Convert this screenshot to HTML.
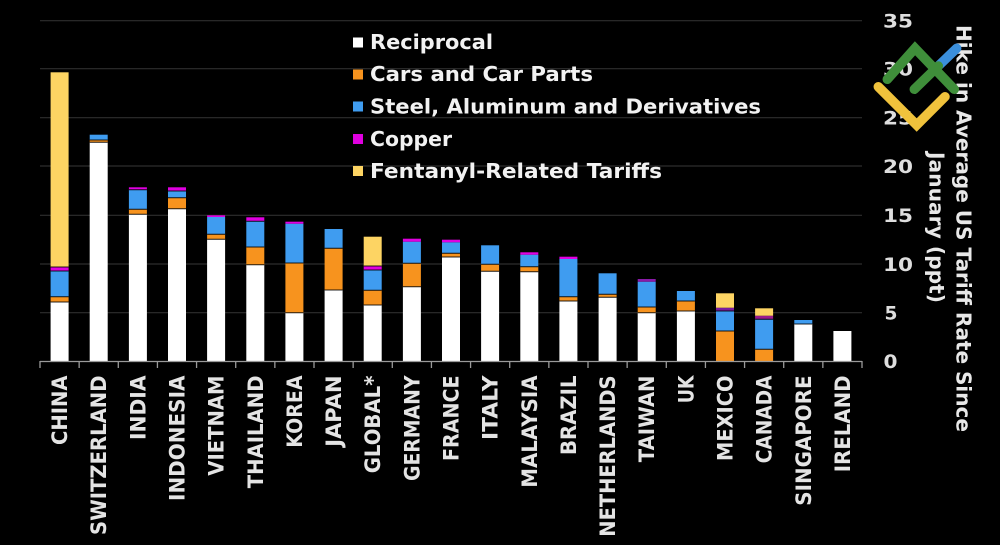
<!DOCTYPE html>
<html><head><meta charset="utf-8"><style>
html,body{margin:0;padding:0;background:#000;}
svg{display:block;}
text{font-family:"DejaVu Sans","Liberation Sans",sans-serif;font-weight:bold;}
.lab{font-family:"DejaVu Sans Mono","Liberation Mono",monospace;font-size:21px;fill:#e4e4e4;}
.leg{font-size:20px;fill:#f2f2f2;}
.ax{font-size:19px;fill:#dedede;}
.tt{font-size:20px;fill:#e8e8e8;}
</style></head><body>
<svg width="1000" height="545" viewBox="0 0 1000 545" xmlns="http://www.w3.org/2000/svg">
<rect width="1000" height="545" fill="#000"/>
<!-- gridlines -->
<g stroke="#2e2e2e" stroke-width="1.2">
<line x1="40" y1="20.7" x2="862" y2="20.7"/>
<line x1="40" y1="68.7" x2="862" y2="68.7"/>
<line x1="40" y1="117.7" x2="862" y2="117.7"/>
<line x1="40" y1="166" x2="862" y2="166"/>
<line x1="40" y1="215.3" x2="862" y2="215.3"/>
<line x1="40" y1="264" x2="862" y2="264"/>
<line x1="40" y1="312.7" x2="862" y2="312.7"/>
</g>
<!-- bars -->
<g>
<!-- CHINA -->
<rect x="50.6" y="302" width="18" height="59" fill="#fff"/>
<rect x="50.6" y="296.7" width="18" height="5.3" fill="#f7931e"/>
<rect x="50.6" y="271" width="18" height="25.7" fill="#3f9cf0"/>
<rect x="50.6" y="267" width="18" height="4" fill="#e000e0"/>
<rect x="50.6" y="72.3" width="18" height="194.7" fill="#fdd463"/>
<!-- SWITZERLAND -->
<rect x="89.7" y="142.3" width="18" height="218.7" fill="#fff"/>
<rect x="89.7" y="140" width="18" height="2.3" fill="#f7931e"/>
<rect x="89.7" y="134.7" width="18" height="5.3" fill="#3f9cf0"/>
<!-- INDIA -->
<rect x="128.9" y="214.3" width="18" height="146.7" fill="#fff"/>
<rect x="128.9" y="209.3" width="18" height="5" fill="#f7931e"/>
<rect x="128.9" y="189.7" width="18" height="19.6" fill="#3f9cf0"/>
<rect x="128.9" y="187.3" width="18" height="2.4" fill="#e000e0"/>
<!-- INDONESIA -->
<rect x="168" y="208.7" width="18" height="152.3" fill="#fff"/>
<rect x="168" y="197.7" width="18" height="11" fill="#f7931e"/>
<rect x="168" y="191" width="18" height="6.7" fill="#3f9cf0"/>
<rect x="168" y="187.3" width="18" height="3.7" fill="#e000e0"/>
<!-- VIETNAM -->
<rect x="207.1" y="239.3" width="18" height="121.7" fill="#fff"/>
<rect x="207.1" y="234.3" width="18" height="5" fill="#f7931e"/>
<rect x="207.1" y="217" width="18" height="17.3" fill="#3f9cf0"/>
<rect x="207.1" y="215.3" width="18" height="1.7" fill="#e000e0"/>
<!-- THAILAND -->
<rect x="246.3" y="264.7" width="18" height="96.3" fill="#fff"/>
<rect x="246.3" y="247" width="18" height="17.7" fill="#f7931e"/>
<rect x="246.3" y="221.3" width="18" height="25.7" fill="#3f9cf0"/>
<rect x="246.3" y="217.3" width="18" height="4" fill="#e000e0"/>
<!-- KOREA -->
<rect x="285.4" y="312.7" width="18" height="48.3" fill="#fff"/>
<rect x="285.4" y="263" width="18" height="49.7" fill="#f7931e"/>
<rect x="285.4" y="223.7" width="18" height="39.3" fill="#3f9cf0"/>
<rect x="285.4" y="221.7" width="18" height="2" fill="#e000e0"/>
<!-- JAPAN -->
<rect x="324.6" y="290" width="18" height="71" fill="#fff"/>
<rect x="324.6" y="248.3" width="18" height="41.7" fill="#f7931e"/>
<rect x="324.6" y="229" width="18" height="19.3" fill="#3f9cf0"/>
<!-- GLOBAL -->
<rect x="363.7" y="305" width="18" height="56" fill="#fff"/>
<rect x="363.7" y="290.3" width="18" height="14.7" fill="#f7931e"/>
<rect x="363.7" y="270" width="18" height="20.3" fill="#3f9cf0"/>
<rect x="363.7" y="266" width="18" height="4" fill="#e000e0"/>
<rect x="363.7" y="236.7" width="18" height="29.3" fill="#fdd463"/>
<!-- GERMANY -->
<rect x="402.9" y="286.7" width="18" height="74.3" fill="#fff"/>
<rect x="402.9" y="263.3" width="18" height="23.4" fill="#f7931e"/>
<rect x="402.9" y="241.7" width="18" height="21.6" fill="#3f9cf0"/>
<rect x="402.9" y="238.7" width="18" height="3" fill="#e000e0"/>
<!-- FRANCE -->
<rect x="442" y="257" width="18" height="104" fill="#fff"/>
<rect x="442" y="253.3" width="18" height="3.7" fill="#f7931e"/>
<rect x="442" y="242.3" width="18" height="11" fill="#3f9cf0"/>
<rect x="442" y="239.7" width="18" height="2.6" fill="#e000e0"/>
<!-- ITALY -->
<rect x="481.1" y="271.3" width="18" height="89.7" fill="#fff"/>
<rect x="481.1" y="264.3" width="18" height="7" fill="#f7931e"/>
<rect x="481.1" y="245.3" width="18" height="19" fill="#3f9cf0"/>
<!-- MALAYSIA -->
<rect x="520.3" y="271.7" width="18" height="89.3" fill="#fff"/>
<rect x="520.3" y="266.7" width="18" height="5" fill="#f7931e"/>
<rect x="520.3" y="254.7" width="18" height="12" fill="#3f9cf0"/>
<rect x="520.3" y="252.3" width="18" height="2.4" fill="#e000e0"/>
<!-- BRAZIL -->
<rect x="559.4" y="301" width="18" height="60" fill="#fff"/>
<rect x="559.4" y="296.7" width="18" height="4.3" fill="#f7931e"/>
<rect x="559.4" y="259" width="18" height="37.7" fill="#3f9cf0"/>
<rect x="559.4" y="256.7" width="18" height="2.3" fill="#e000e0"/>
<!-- NETHERLANDS -->
<rect x="598.6" y="297.3" width="18" height="63.7" fill="#fff"/>
<rect x="598.6" y="294.3" width="18" height="3" fill="#f7931e"/>
<rect x="598.6" y="273.3" width="18" height="21" fill="#3f9cf0"/>
<!-- TAIWAN -->
<rect x="637.7" y="312.7" width="18" height="48.3" fill="#fff"/>
<rect x="637.7" y="307" width="18" height="5.7" fill="#f7931e"/>
<rect x="637.7" y="281.7" width="18" height="25.3" fill="#3f9cf0"/>
<rect x="637.7" y="279" width="18" height="2.7" fill="#8a1aa8"/>
<!-- UK -->
<rect x="676.9" y="311" width="18" height="50" fill="#fff"/>
<rect x="676.9" y="301" width="18" height="10" fill="#f7931e"/>
<rect x="676.9" y="291" width="18" height="10" fill="#3f9cf0"/>
<!-- MEXICO -->
<rect x="716" y="331" width="18" height="30" fill="#f7931e"/>
<rect x="716" y="311" width="18" height="20" fill="#3f9cf0"/>
<rect x="716" y="307.7" width="18" height="3.3" fill="#7a1a9e"/>
<rect x="716" y="293.3" width="18" height="14.4" fill="#fdd463"/>
<!-- CANADA -->
<rect x="755.1" y="349.3" width="18" height="11.7" fill="#f7931e"/>
<rect x="755.1" y="319.3" width="18" height="30" fill="#3f9cf0"/>
<rect x="755.1" y="315.7" width="18" height="3.6" fill="#9a1a8e"/>
<rect x="755.1" y="308.3" width="18" height="7.4" fill="#fdd463"/>
<!-- SINGAPORE -->
<rect x="794.3" y="324" width="18" height="37" fill="#fff"/>
<rect x="794.3" y="320" width="18" height="4" fill="#3f9cf0"/>
<!-- IRELAND -->
<rect x="833.4" y="331" width="18" height="30" fill="#fff"/>
</g>
<!-- separators -->
<g stroke="#000" stroke-width="1" opacity="0.85">
<line x1="50.6" x2="68.6" y1="302" y2="302"/><line x1="50.6" x2="68.6" y1="296.7" y2="296.7"/><line x1="50.6" x2="68.6" y1="271" y2="271"/><line x1="50.6" x2="68.6" y1="267" y2="267"/>
<line x1="89.7" x2="107.7" y1="142.3" y2="142.3"/><line x1="89.7" x2="107.7" y1="140" y2="140"/>
<line x1="128.9" x2="146.9" y1="214.3" y2="214.3"/><line x1="128.9" x2="146.9" y1="209.3" y2="209.3"/><line x1="128.9" x2="146.9" y1="189.7" y2="189.7"/>
<line x1="168" x2="186" y1="208.7" y2="208.7"/><line x1="168" x2="186" y1="197.7" y2="197.7"/><line x1="168" x2="186" y1="191" y2="191"/>
<line x1="207.1" x2="225.1" y1="239.3" y2="239.3"/><line x1="207.1" x2="225.1" y1="234.3" y2="234.3"/>
<line x1="246.3" x2="264.3" y1="264.7" y2="264.7"/><line x1="246.3" x2="264.3" y1="247" y2="247"/><line x1="246.3" x2="264.3" y1="221.3" y2="221.3"/>
<line x1="285.4" x2="303.4" y1="312.7" y2="312.7"/><line x1="285.4" x2="303.4" y1="263" y2="263"/>
<line x1="324.6" x2="342.6" y1="290" y2="290"/><line x1="324.6" x2="342.6" y1="248.3" y2="248.3"/>
<line x1="363.7" x2="381.7" y1="305" y2="305"/><line x1="363.7" x2="381.7" y1="290.3" y2="290.3"/><line x1="363.7" x2="381.7" y1="270" y2="270"/><line x1="363.7" x2="381.7" y1="266" y2="266"/>
<line x1="402.9" x2="420.9" y1="286.7" y2="286.7"/><line x1="402.9" x2="420.9" y1="263.3" y2="263.3"/>
<line x1="442" x2="460" y1="257" y2="257"/><line x1="442" x2="460" y1="253.3" y2="253.3"/>
<line x1="481.1" x2="499.1" y1="271.3" y2="271.3"/><line x1="481.1" x2="499.1" y1="264.3" y2="264.3"/>
<line x1="520.3" x2="538.3" y1="271.7" y2="271.7"/><line x1="520.3" x2="538.3" y1="266.7" y2="266.7"/>
<line x1="559.4" x2="577.4" y1="301" y2="301"/><line x1="559.4" x2="577.4" y1="296.7" y2="296.7"/>
<line x1="598.6" x2="616.6" y1="297.3" y2="297.3"/><line x1="598.6" x2="616.6" y1="294.3" y2="294.3"/>
<line x1="637.7" x2="655.7" y1="312.7" y2="312.7"/><line x1="637.7" x2="655.7" y1="307" y2="307"/>
<line x1="676.9" x2="694.9" y1="311" y2="311"/><line x1="676.9" x2="694.9" y1="301" y2="301"/>
<line x1="716" x2="734" y1="331" y2="331"/><line x1="716" x2="734" y1="311" y2="311"/>
<line x1="755.1" x2="773.1" y1="349.3" y2="349.3"/><line x1="755.1" x2="773.1" y1="319.3" y2="319.3"/>
<line x1="794.3" x2="812.3" y1="324" y2="324"/>
</g>
<!-- x axis -->
<g stroke="#9a9a9a" stroke-width="1.3">
<line x1="40" y1="361.5" x2="862" y2="361.5"/>
<line x1="40" y1="361" x2="40" y2="368"/><line x1="79.14" y1="361" x2="79.14" y2="368"/><line x1="118.29" y1="361" x2="118.29" y2="368"/><line x1="157.43" y1="361" x2="157.43" y2="368"/><line x1="196.57" y1="361" x2="196.57" y2="368"/><line x1="235.71" y1="361" x2="235.71" y2="368"/><line x1="274.86" y1="361" x2="274.86" y2="368"/><line x1="314" y1="361" x2="314" y2="368"/><line x1="353.14" y1="361" x2="353.14" y2="368"/><line x1="392.29" y1="361" x2="392.29" y2="368"/><line x1="431.43" y1="361" x2="431.43" y2="368"/><line x1="470.57" y1="361" x2="470.57" y2="368"/><line x1="509.71" y1="361" x2="509.71" y2="368"/><line x1="548.86" y1="361" x2="548.86" y2="368"/><line x1="588" y1="361" x2="588" y2="368"/><line x1="627.14" y1="361" x2="627.14" y2="368"/><line x1="666.29" y1="361" x2="666.29" y2="368"/><line x1="705.43" y1="361" x2="705.43" y2="368"/><line x1="744.57" y1="361" x2="744.57" y2="368"/><line x1="783.71" y1="361" x2="783.71" y2="368"/><line x1="822.86" y1="361" x2="822.86" y2="368"/><line x1="862" y1="361" x2="862" y2="368"/>
</g>
<!-- x labels (rotated, read bottom to top) -->
<g class="lab">
<text transform="translate(67.1,445) rotate(-90)" textLength="69.5" lengthAdjust="spacingAndGlyphs">CHINA</text>
<text transform="translate(106.2,535) rotate(-90)" textLength="159.5" lengthAdjust="spacingAndGlyphs">SWITZERLAND</text>
<text transform="translate(145.4,440) rotate(-90)" textLength="64.5" lengthAdjust="spacingAndGlyphs">INDIA</text>
<text transform="translate(184.5,501) rotate(-90)" textLength="125.5" lengthAdjust="spacingAndGlyphs">INDONESIA</text>
<text transform="translate(223.6,475.7) rotate(-90)" textLength="100.2" lengthAdjust="spacingAndGlyphs">VIETNAM</text>
<text transform="translate(262.8,488.3) rotate(-90)" textLength="112.8" lengthAdjust="spacingAndGlyphs">THAILAND</text>
<text transform="translate(301.9,447.7) rotate(-90)" textLength="72.2" lengthAdjust="spacingAndGlyphs">KOREA</text>
<text transform="translate(341.1,446.7) rotate(-90)" textLength="71.2" lengthAdjust="spacingAndGlyphs">JAPAN</text>
<text transform="translate(380.2,473.3) rotate(-90)" textLength="97.8" lengthAdjust="spacingAndGlyphs">GLOBAL*</text>
<text transform="translate(419.4,481) rotate(-90)" textLength="105.5" lengthAdjust="spacingAndGlyphs">GERMANY</text>
<text transform="translate(458.5,461) rotate(-90)" textLength="85.5" lengthAdjust="spacingAndGlyphs">FRANCE</text>
<text transform="translate(497.6,440) rotate(-90)" textLength="64.5" lengthAdjust="spacingAndGlyphs">ITALY</text>
<text transform="translate(536.8,487.7) rotate(-90)" textLength="112.2" lengthAdjust="spacingAndGlyphs">MALAYSIA</text>
<text transform="translate(575.9,455) rotate(-90)" textLength="79.5" lengthAdjust="spacingAndGlyphs">BRAZIL</text>
<text transform="translate(615.1,536.7) rotate(-90)" textLength="161.2" lengthAdjust="spacingAndGlyphs">NETHERLANDS</text>
<text transform="translate(654.2,462.3) rotate(-90)" textLength="86.8" lengthAdjust="spacingAndGlyphs">TAIWAN</text>
<text transform="translate(693.4,403.3) rotate(-90)" textLength="27.8" lengthAdjust="spacingAndGlyphs">UK</text>
<text transform="translate(732.5,461) rotate(-90)" textLength="85.5" lengthAdjust="spacingAndGlyphs">MEXICO</text>
<text transform="translate(771.6,463.3) rotate(-90)" textLength="87.8" lengthAdjust="spacingAndGlyphs">CANADA</text>
<text transform="translate(810.8,505.7) rotate(-90)" textLength="130.2" lengthAdjust="spacingAndGlyphs">SINGAPORE</text>
<text transform="translate(849.9,472.3) rotate(-90)" textLength="96.8" lengthAdjust="spacingAndGlyphs">IRELAND</text>
</g>
<!-- right axis labels -->
<g class="ax">
<text x="883" y="27.5" textLength="30" lengthAdjust="spacingAndGlyphs">35</text>
<text x="883" y="75.5" textLength="30" lengthAdjust="spacingAndGlyphs">30</text>
<text x="883" y="124.5" textLength="30" lengthAdjust="spacingAndGlyphs">25</text>
<text x="883" y="173" textLength="30" lengthAdjust="spacingAndGlyphs">20</text>
<text x="883" y="222" textLength="30" lengthAdjust="spacingAndGlyphs">15</text>
<text x="883" y="271" textLength="30" lengthAdjust="spacingAndGlyphs">10</text>
<text x="884.5" y="319.5" textLength="13" lengthAdjust="spacingAndGlyphs">5</text>
<text x="883.5" y="368" textLength="14" lengthAdjust="spacingAndGlyphs">0</text>
</g>
<!-- axis title -->
<g class="tt">
<text transform="translate(956.5,25) rotate(90)" textLength="407" lengthAdjust="spacingAndGlyphs">Hike in Average US Tariff Rate Since</text>
<text transform="translate(929.5,152) rotate(90)" textLength="151" lengthAdjust="spacingAndGlyphs">January (ppt)</text>
</g>
<!-- legend -->
<rect x="353" y="37.5" width="10" height="10" fill="#fff"/>
<rect x="353" y="69.5" width="10" height="10" fill="#f7931e"/>
<rect x="353" y="101.5" width="10" height="10" fill="#3f9cf0"/>
<rect x="353" y="134" width="10" height="10" fill="#e000e0"/>
<rect x="353" y="166" width="10" height="10" fill="#fdd463"/>
<g class="leg">
<text x="370" y="49" textLength="123" lengthAdjust="spacingAndGlyphs">Reciprocal</text>
<text x="370" y="81" textLength="223" lengthAdjust="spacingAndGlyphs">Cars and Car Parts</text>
<text x="370" y="113.5" textLength="391" lengthAdjust="spacingAndGlyphs">Steel, Aluminum and Derivatives</text>
<text x="370" y="146" textLength="82" lengthAdjust="spacingAndGlyphs">Copper</text>
<text x="370" y="178" textLength="292" lengthAdjust="spacingAndGlyphs">Fentanyl-Related Tariffs</text>
</g>
<!-- logo -->
<g stroke-linecap="round" stroke-width="9.5" fill="none">
<polyline points="878.3,86.7 916.7,125 945,96.7" stroke="#f0c23c"/>
<line x1="938.3" y1="66" x2="956.7" y2="48.3" stroke="#3b8fdc"/>
<polyline points="887.3,79.3 915,48.3 954.3,89.3" stroke="#3f8e3a"/>
<line x1="914.3" y1="89.3" x2="938.3" y2="66" stroke="#3f8e3a"/>
</g>
</svg>
</body></html>
